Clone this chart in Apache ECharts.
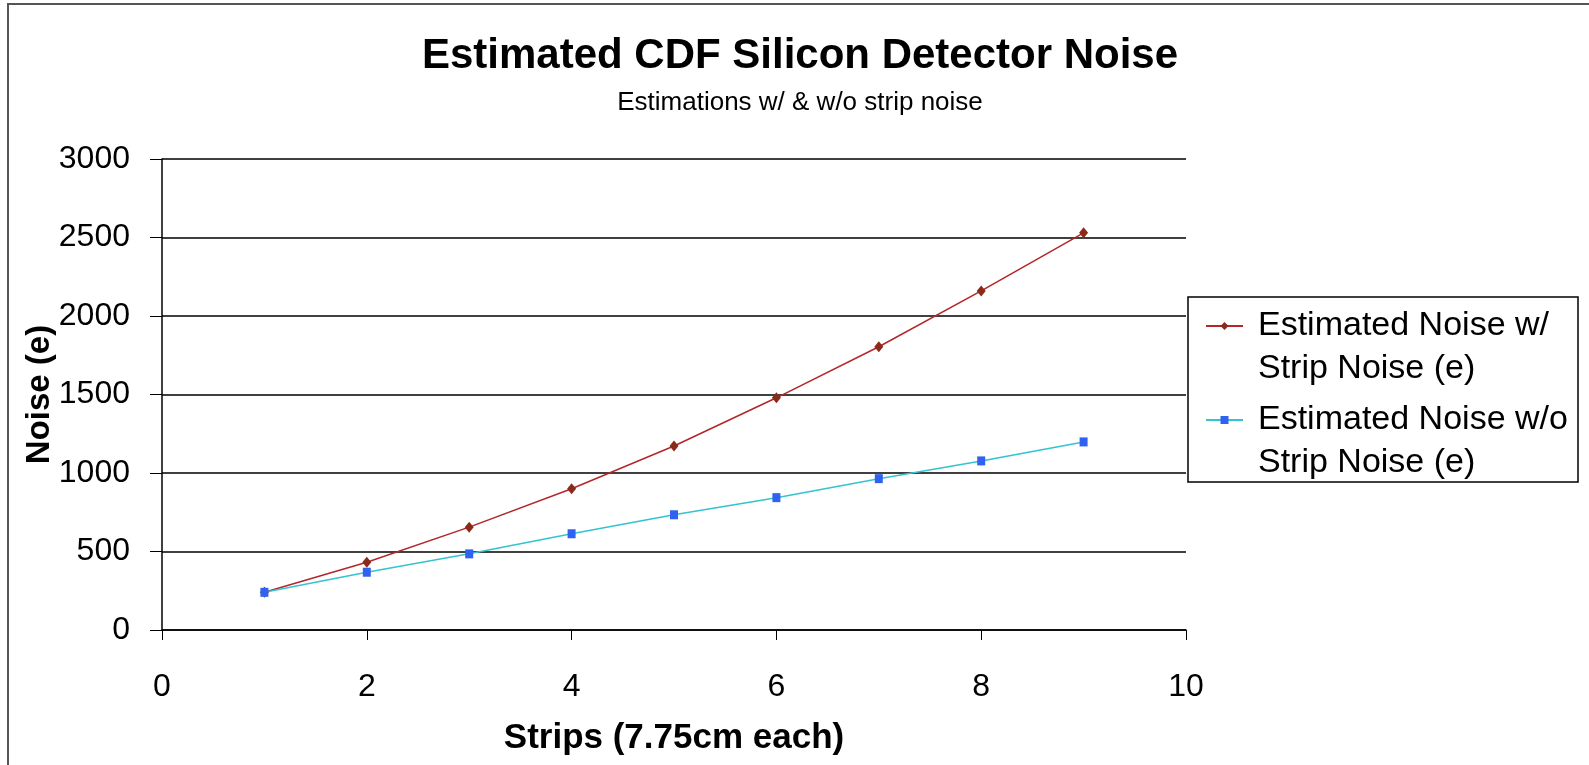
<!DOCTYPE html>
<html><head><meta charset="utf-8">
<script src="https://cdn.jsdelivr.net/npm/echarts@6/dist/echarts.min.js"></script>
<style>html,body{margin:0;padding:0;background:#fff}#c{width:1589px;height:765px}</style>
</head><body><div id="c"></div>
<script>
const strips = [1, 2, 3, 4, 5, 6, 7, 8, 9];
const noiseWithStrip = [240, 432, 655, 900, 1172, 1479, 1804, 2160, 2530];
const noiseWithoutStrip = [240, 368, 485, 613, 734, 843, 964, 1077, 1198];
const seriesNames = ['Estimated Noise w/\nStrip Noise (e)', 'Estimated Noise w/o\nStrip Noise (e)'];
const titleText = 'Estimated CDF Silicon Detector Noise';
const subtitleText = 'Estimations w/ & w/o strip noise';
const xAxisTitle = 'Strips (7.75cm each)';
const yAxisTitle = 'Noise (e)';

const chart = echarts.init(document.getElementById('c'));
const font = 'Liberation Sans, Arial, sans-serif';
const LH = 43;
chart.setOption({
  backgroundColor: '#fff',
  animation: false,
  graphic: [{
    type: 'rect', shape: {x: 8, y: 4, width: 1600, height: 800},
    style: {fill: 'none', stroke: '#555', lineWidth: 2}, silent: true, z: -1
  }, {
    type: 'rect', shape: {x: 1188, y: 297, width: 390, height: 185},
    style: {fill: '#fff', stroke: '#000', lineWidth: 1.5}, silent: true, z: 0
  }],
  title: {
    text: titleText, subtext: subtitleText, left: 795, top: 30, textAlign: 'center',
    textStyle: {fontFamily: font, fontSize: 42, fontWeight: 'bold', color: '#000'},
    subtextStyle: {fontFamily: font, fontSize: 26, color: '#000'}, itemGap: 13
  },
  legend: {
    orient: 'vertical', left: 1205, top: 326 - 1.5 * LH,
    padding: 0, itemGap: -35, itemWidth: 37, itemHeight: 10, z: 10,
    formatter: name => '\n' + name,
    textStyle: {fontFamily: font, fontSize: 34, color: '#000', lineHeight: LH, padding: [0, 0, 0, 10]},
    data: seriesNames
  },
  grid: {left: 162, right: 403, top: 159, bottom: 135},
  xAxis: {
    type: 'value', min: 0, max: 10, interval: 2,
    name: xAxisTitle, nameLocation: 'middle', nameGap: 91, nameMoveOverlap: false,
    nameTextStyle: {fontFamily: font, fontSize: 35, fontWeight: 'bold', color: '#000'},
    axisLine: {show: true, lineStyle: {color: '#000', width: 1.5}},
    axisTick: {show: true, length: 10, inside: false, lineStyle: {color: '#000'}},
    axisLabel: {fontFamily: font, fontSize: 32, color: '#000', margin: 41},
    splitLine: {show: false}
  },
  yAxis: {
    type: 'value', min: 0, max: 3000, interval: 500,
    name: yAxisTitle, nameLocation: 'middle', nameGap: 106, nameRotate: 90, nameMoveOverlap: false,
    nameTextStyle: {fontFamily: font, fontSize: 33, fontWeight: 'bold', color: '#000'},
    axisLine: {show: true, lineStyle: {color: '#000', width: 1.5}},
    axisTick: {show: true, length: 12, inside: false, lineStyle: {color: '#000'}},
    axisLabel: {fontFamily: font, fontSize: 32, color: '#000', margin: 32, formatter: v => String(v)},
    splitLine: {show: true, lineStyle: {color: '#000', width: 1.5}}
  },
  series: [{
    name: seriesNames[0], type: 'line',
    data: strips.map((s, i) => [s, noiseWithStrip[i]]),
    symbol: 'diamond', symbolSize: [9, 11],
    lineStyle: {color: '#b3262a', width: 1.5},
    itemStyle: {color: '#8b2a1a'}
  }, {
    name: seriesNames[1], type: 'line',
    data: strips.map((s, i) => [s, noiseWithoutStrip[i]]),
    symbol: 'rect', symbolSize: [8, 9],
    lineStyle: {color: '#33c4d0', width: 1.5},
    itemStyle: {color: '#2f62f0'}
  }]
});
</script></body></html>
